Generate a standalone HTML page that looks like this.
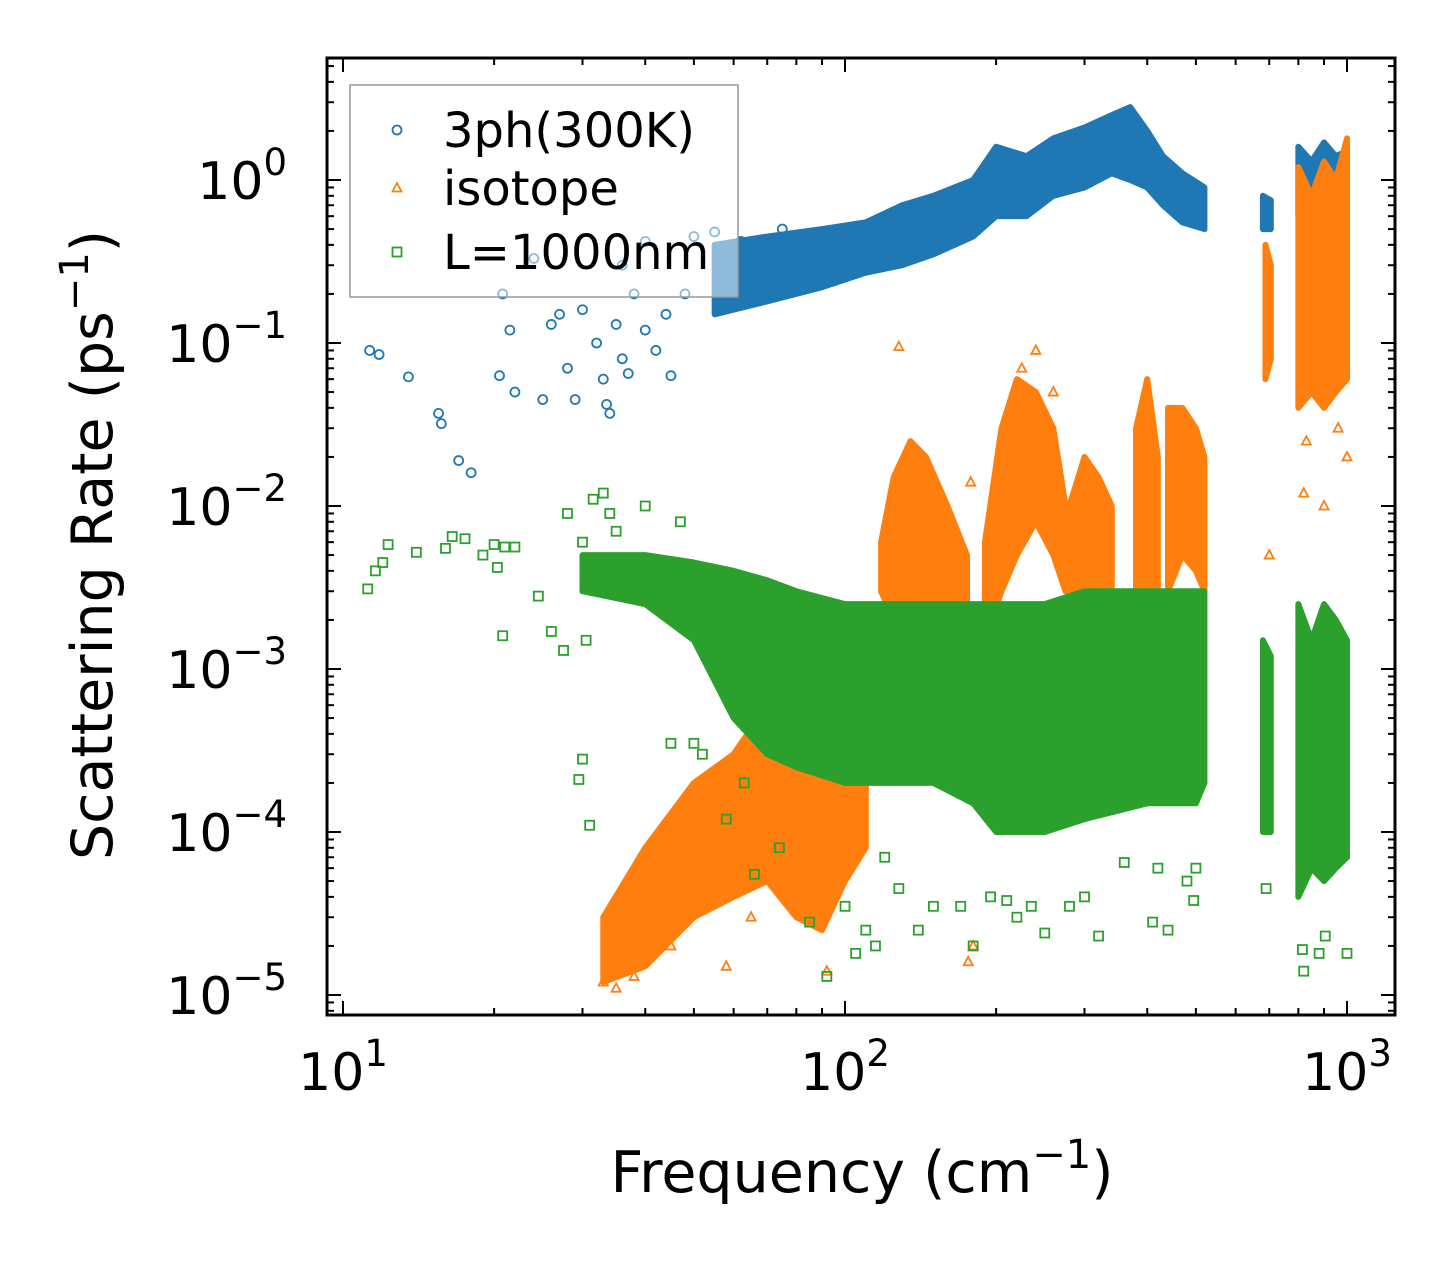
<!DOCTYPE html>
<html><head><meta charset="utf-8"><style>
body{margin:0;background:#fff}
svg text{font-family:"DejaVu Sans","Liberation Sans",sans-serif;fill:#000}
</style></head><body>
<svg id="chart" width="1455" height="1265" viewBox="0 0 1455 1265" xmlns="http://www.w3.org/2000/svg">
<rect width="1455" height="1265" fill="#fff"/>
<g id="bands"></g><g id="pts"></g><g id="axes"></g><g id="legend"></g>
</svg>
<script>
// ---- data ----
const blueBandX=[55,70,90,110,130,150,180,200,230,260,300,340,370,400,430,470,520];
const blueBandLo=[0.15,0.18,0.22,0.27,0.3,0.35,0.45,0.6,0.6,0.8,0.9,1.1,1.0,0.9,0.7,0.55,0.5];
const blueBandHi=[0.4,0.45,0.5,0.55,0.7,0.8,1.0,1.6,1.4,1.8,2.1,2.5,2.8,2.0,1.4,1.1,0.9];
const blueBand2X=[680,705];const blueBand2Lo=[0.5,0.5];const blueBand2Hi=[0.8,0.75];
const blueBand3X=[800,850,900,950,1000];const blueBand3Lo=[0.6,0.6,0.6,0.6,0.6];const blueBand3Hi=[1.6,1.3,1.7,1.4,1.5];
const blueX=[11.3,11.8,13.5,15.5,15.7,17,18,20.5,21.5,22,25,26,27,28,29,30,32,33,33.5,34,35,36,37,40,42,45,38,44,48,20.8,24,36,40,50,55,60,62,75,80];
const blueY=[0.09,0.085,0.062,0.037,0.032,0.019,0.016,0.063,0.12,0.05,0.045,0.13,0.15,0.07,0.045,0.16,0.1,0.06,0.042,0.037,0.13,0.08,0.065,0.12,0.09,0.063,0.2,0.15,0.2,0.2,0.33,0.3,0.42,0.45,0.48,0.3,0.42,0.5,0.22];

const orBands=[
 {x:[33,40,50,60,70,80,90,100,110],lo:[1.2e-5,1.5e-5,3e-5,4e-5,5e-5,3e-5,2.5e-5,5e-5,8e-5],hi:[3e-5,8e-5,2e-4,3e-4,6e-4,7e-4,5e-4,3e-4,2e-4]},
 {x:[118,125,135,145,160,175],lo:[3e-3,2e-3,2e-3,2.5e-3,2e-3,1.5e-3],hi:[6e-3,0.015,0.025,0.02,0.01,0.005]},
 {x:[190,205,220,240,260,275],lo:[1.5e-3,3e-3,5e-3,8e-3,5e-3,3e-3],hi:[6e-3,0.03,0.06,0.05,0.03,0.01]},
 {x:[280,300,320,340],lo:[2e-3,3e-3,2e-3,1.5e-3],hi:[0.01,0.02,0.015,0.01]},
 {x:[380,400,420],lo:[2e-3,3e-3,2e-3],hi:[0.03,0.06,0.02]},
 {x:[440,470,500,520],lo:[3e-3,5e-3,4e-3,3e-3],hi:[0.04,0.04,0.03,0.02]},
 {x:[688,705],lo:[0.06,0.08],hi:[0.4,0.3]},
 {x:[800,850,900,950,1000],lo:[0.04,0.05,0.04,0.05,0.06],hi:[1.2,0.8,1.3,1.0,1.8]}
];
const orX=[33,35,38,45,55,58,65,92,112,128,178,176,180,240,225,260,700,820,900,960,1000,830];
const orY=[1.2e-5,1.1e-5,1.3e-5,2e-5,4e-5,1.5e-5,3e-5,1.4e-5,6e-4,0.095,0.014,1.6e-5,2e-5,0.09,0.07,0.05,0.005,0.012,0.01,0.03,0.02,0.025];

const grBands=[
 {x:[30,40,50,60,70,80,100,120,150,180,200,250,300,400,500,520],lo:[3e-3,2.5e-3,1.5e-3,5e-4,3e-4,2.5e-4,2e-4,2e-4,2e-4,1.5e-4,1e-4,1e-4,1.2e-4,1.5e-4,1.5e-4,2e-4],hi:[5e-3,5e-3,4.5e-3,4e-3,3.5e-3,3e-3,2.5e-3,2.5e-3,2.5e-3,2.5e-3,2.5e-3,2.5e-3,3e-3,3e-3,3e-3,3e-3]},
 {x:[680,705],lo:[1e-4,1e-4],hi:[1.5e-3,1.2e-3]},
 {x:[800,850,900,950,1000],lo:[4e-5,6e-5,5e-5,6e-5,7e-5],hi:[2.5e-3,1.5e-3,2.5e-3,2e-3,1.5e-3]}
];
const grX=[11.2,11.6,12,12.3,14,16,16.5,17.5,19,20,21,22,20.3,20.8,24.5,26,27.5,28,29.5,30,30.5,31,31.5,33,34,30,35,40,45,47,50,52,58,63,66,74,85,92,100,105,110,115,120,128,140,150,170,180,195,210,220,235,250,280,320,360,410,440,480,495,690,815,820,880,905,1000,300,420,500];
const grY=[3.1e-3,4e-3,4.5e-3,5.8e-3,5.2e-3,5.5e-3,6.5e-3,6.3e-3,5e-3,5.8e-3,5.6e-3,5.6e-3,4.2e-3,1.6e-3,2.8e-3,1.7e-3,1.3e-3,9e-3,2.1e-4,2.8e-4,1.5e-3,1.1e-4,0.011,0.012,9e-3,6e-3,7e-3,1e-2,3.5e-4,8e-3,3.5e-4,3e-4,1.2e-4,2e-4,5.5e-5,8e-5,2.8e-5,1.3e-5,3.5e-5,1.8e-5,2.5e-5,2e-5,7e-5,4.5e-5,2.5e-5,3.5e-5,3.5e-5,2e-5,4e-5,3.8e-5,3e-5,3.5e-5,2.4e-5,3.5e-5,2.3e-5,6.5e-5,2.8e-5,2.5e-5,5e-5,3.8e-5,4.5e-5,1.9e-5,1.4e-5,1.8e-5,2.3e-5,1.8e-5,4e-5,6e-5,6e-5];

const xTicks=[10,100,1000];const xTickExp=["1","2","3"];
const yTicks=[1,0.1,0.01,1e-3,1e-4,1e-5];const yTickExp=["0","\u22121","\u22122","\u22123","\u22124","\u22125"];

// ---- scales ----
const L=327,R=1395,T=58,B=1015;
const sx=v=>343+502*(Math.log10(v)-1);
const sy=v=>180-163*Math.log10(v);
const NS="http://www.w3.org/2000/svg";
function mk(tag,attrs,parent){const e=document.createElementNS(NS,tag);for(const k in attrs)e.setAttribute(k,attrs[k]);parent.appendChild(e);return e;}
const C={b:"#1f77b4",o:"#ff7f0e",g:"#2ca02c"};
const bandG=document.getElementById('bands'),ptG=document.getElementById('pts');
function band(xs,lo,hi,col,name){
  let d="M"+xs.map((x,i)=>sx(x)+","+sy(hi[i])).join(" L");
  for(let i=xs.length-1;i>=0;i--)d+=" L"+sx(xs[i])+","+sy(lo[i]);
  const p=mk('path',{d:d+"Z",fill:col,stroke:col,'stroke-width':6,'stroke-linejoin':'round'},bandG);
  
  
}
function marker(kind,x,y,col,parent){
  let e;
  if(kind==='c')e=mk('circle',{cx:x,cy:y,r:4.5,fill:'none',stroke:col,'stroke-width':1.8},parent);
  else if(kind==='t')e=mk('path',{d:`M${x},${y-5} L${x+4.5},${y+3.5} L${x-4.5},${y+3.5}Z`,fill:'none',stroke:col,'stroke-width':1.8},parent);
  else e=mk('rect',{x:x-4.5,y:y-4.5,width:9,height:9,fill:'none',stroke:col,'stroke-width':1.8},parent);
  return e;
}
band(blueBandX,blueBandLo,blueBandHi,C.b,'3ph-band');
band(blueBand2X,blueBand2Lo,blueBand2Hi,C.b,'3ph-band-700');
band(blueBand3X,blueBand3Lo,blueBand3Hi,C.b,'3ph-band-900');
blueX.forEach((x,i)=>{const m=marker('c',sx(x),sy(blueY[i]),C.b,ptG);

});
orBands.forEach((b,i)=>band(b.x,b.lo,b.hi,C.o,'isotope-band-'+i));
orX.forEach((x,i)=>{const m=marker('t',sx(x),sy(orY[i]),C.o,ptG);

});
const grG=mk('g',{},ptG);
grBands.forEach((b,i)=>{
  let d="M"+b.x.map((x,j)=>sx(x)+","+sy(b.hi[j])).join(" L");
  for(let j=b.x.length-1;j>=0;j--)d+=" L"+sx(b.x[j])+","+sy(b.lo[j]);
  const p=mk('path',{d:d+"Z",fill:C.g,stroke:C.g,'stroke-width':6,'stroke-linejoin':'round'},grG);
  
  
});
grX.forEach((x,i)=>{const m=marker('s',sx(x),sy(grY[i]),C.g,grG);

});

// ---- axes ----
const ax=document.getElementById('axes');
const fr=mk('rect',{x:L,y:T,width:R-L,height:B-T,fill:'none',stroke:'#000','stroke-width':3},ax);


for(let dec=1;dec<=1000;dec*=10)for(let k=1;k<10;k++){const v=dec*k,x=sx(v);if(x<L||x>R)continue;const len=k===1?14:7;
 mk('line',{x1:x,y1:B,x2:x,y2:B-len,stroke:'#000','stroke-width':2},ax);mk('line',{x1:x,y1:T,x2:x,y2:T+len,stroke:'#000','stroke-width':2},ax);}
for(let e=-6;e<=0;e++)for(let k=1;k<10;k++){const v=Math.pow(10,e)*k,y=sy(v);if(y<T||y>B)continue;const len=k===1?14:7;
 mk('line',{x1:L,y1:y,x2:L+len,y2:y,stroke:'#000','stroke-width':2},ax);mk('line',{x1:R,y1:y,x2:R-len,y2:y,stroke:'#000','stroke-width':2},ax);}
xTicks.forEach((v,i)=>{const t=mk('text',{x:sx(v),y:1090,'font-size':52,'text-anchor':'middle'},ax);


t.textContent='10';const s=mk('tspan',{dy:-24,'font-size':37},t);s.textContent=xTickExp[i];});
yTicks.forEach((v,i)=>{const t=mk('text',{x:287,y:sy(v)+19,'font-size':52,'text-anchor':'end'},ax);


t.textContent='10';const s=mk('tspan',{dy:-24,'font-size':37},t);s.textContent=yTickExp[i];});
const xl=mk('text',{x:862,y:1192,'font-size':57,'text-anchor':'middle'},ax);


xl.innerHTML='Frequency (cm<tspan dy="-24" font-size="40">\u22121</tspan><tspan dy="24">)</tspan>';
const yl=mk('text',{x:0,y:0,'font-size':57,'text-anchor':'middle',transform:'translate(112,545) rotate(-90)'},ax);


yl.innerHTML='Scattering Rate (ps<tspan dy="-24" font-size="40">\u22121</tspan><tspan dy="24">)</tspan>';

// ---- legend ----
const lg=document.getElementById('legend');


mk('rect',{x:350,y:85,width:388,height:212,fill:'#fff','fill-opacity':0.5,stroke:'#999','stroke-width':1.5},lg);
const labels=['3ph(300K)','isotope','L=1000nm'],kinds=['c','t','s'],cols=[C.b,C.o,C.g],ly=[130,188,252];
labels.forEach((lab,i)=>{const g=mk('g',{},lg);


marker(kinds[i],397,ly[i],cols[i],g);
const t=mk('text',{x:443,y:ly[i]+17,'font-size':48},g);t.textContent=lab;});
</script>
</body></html>
